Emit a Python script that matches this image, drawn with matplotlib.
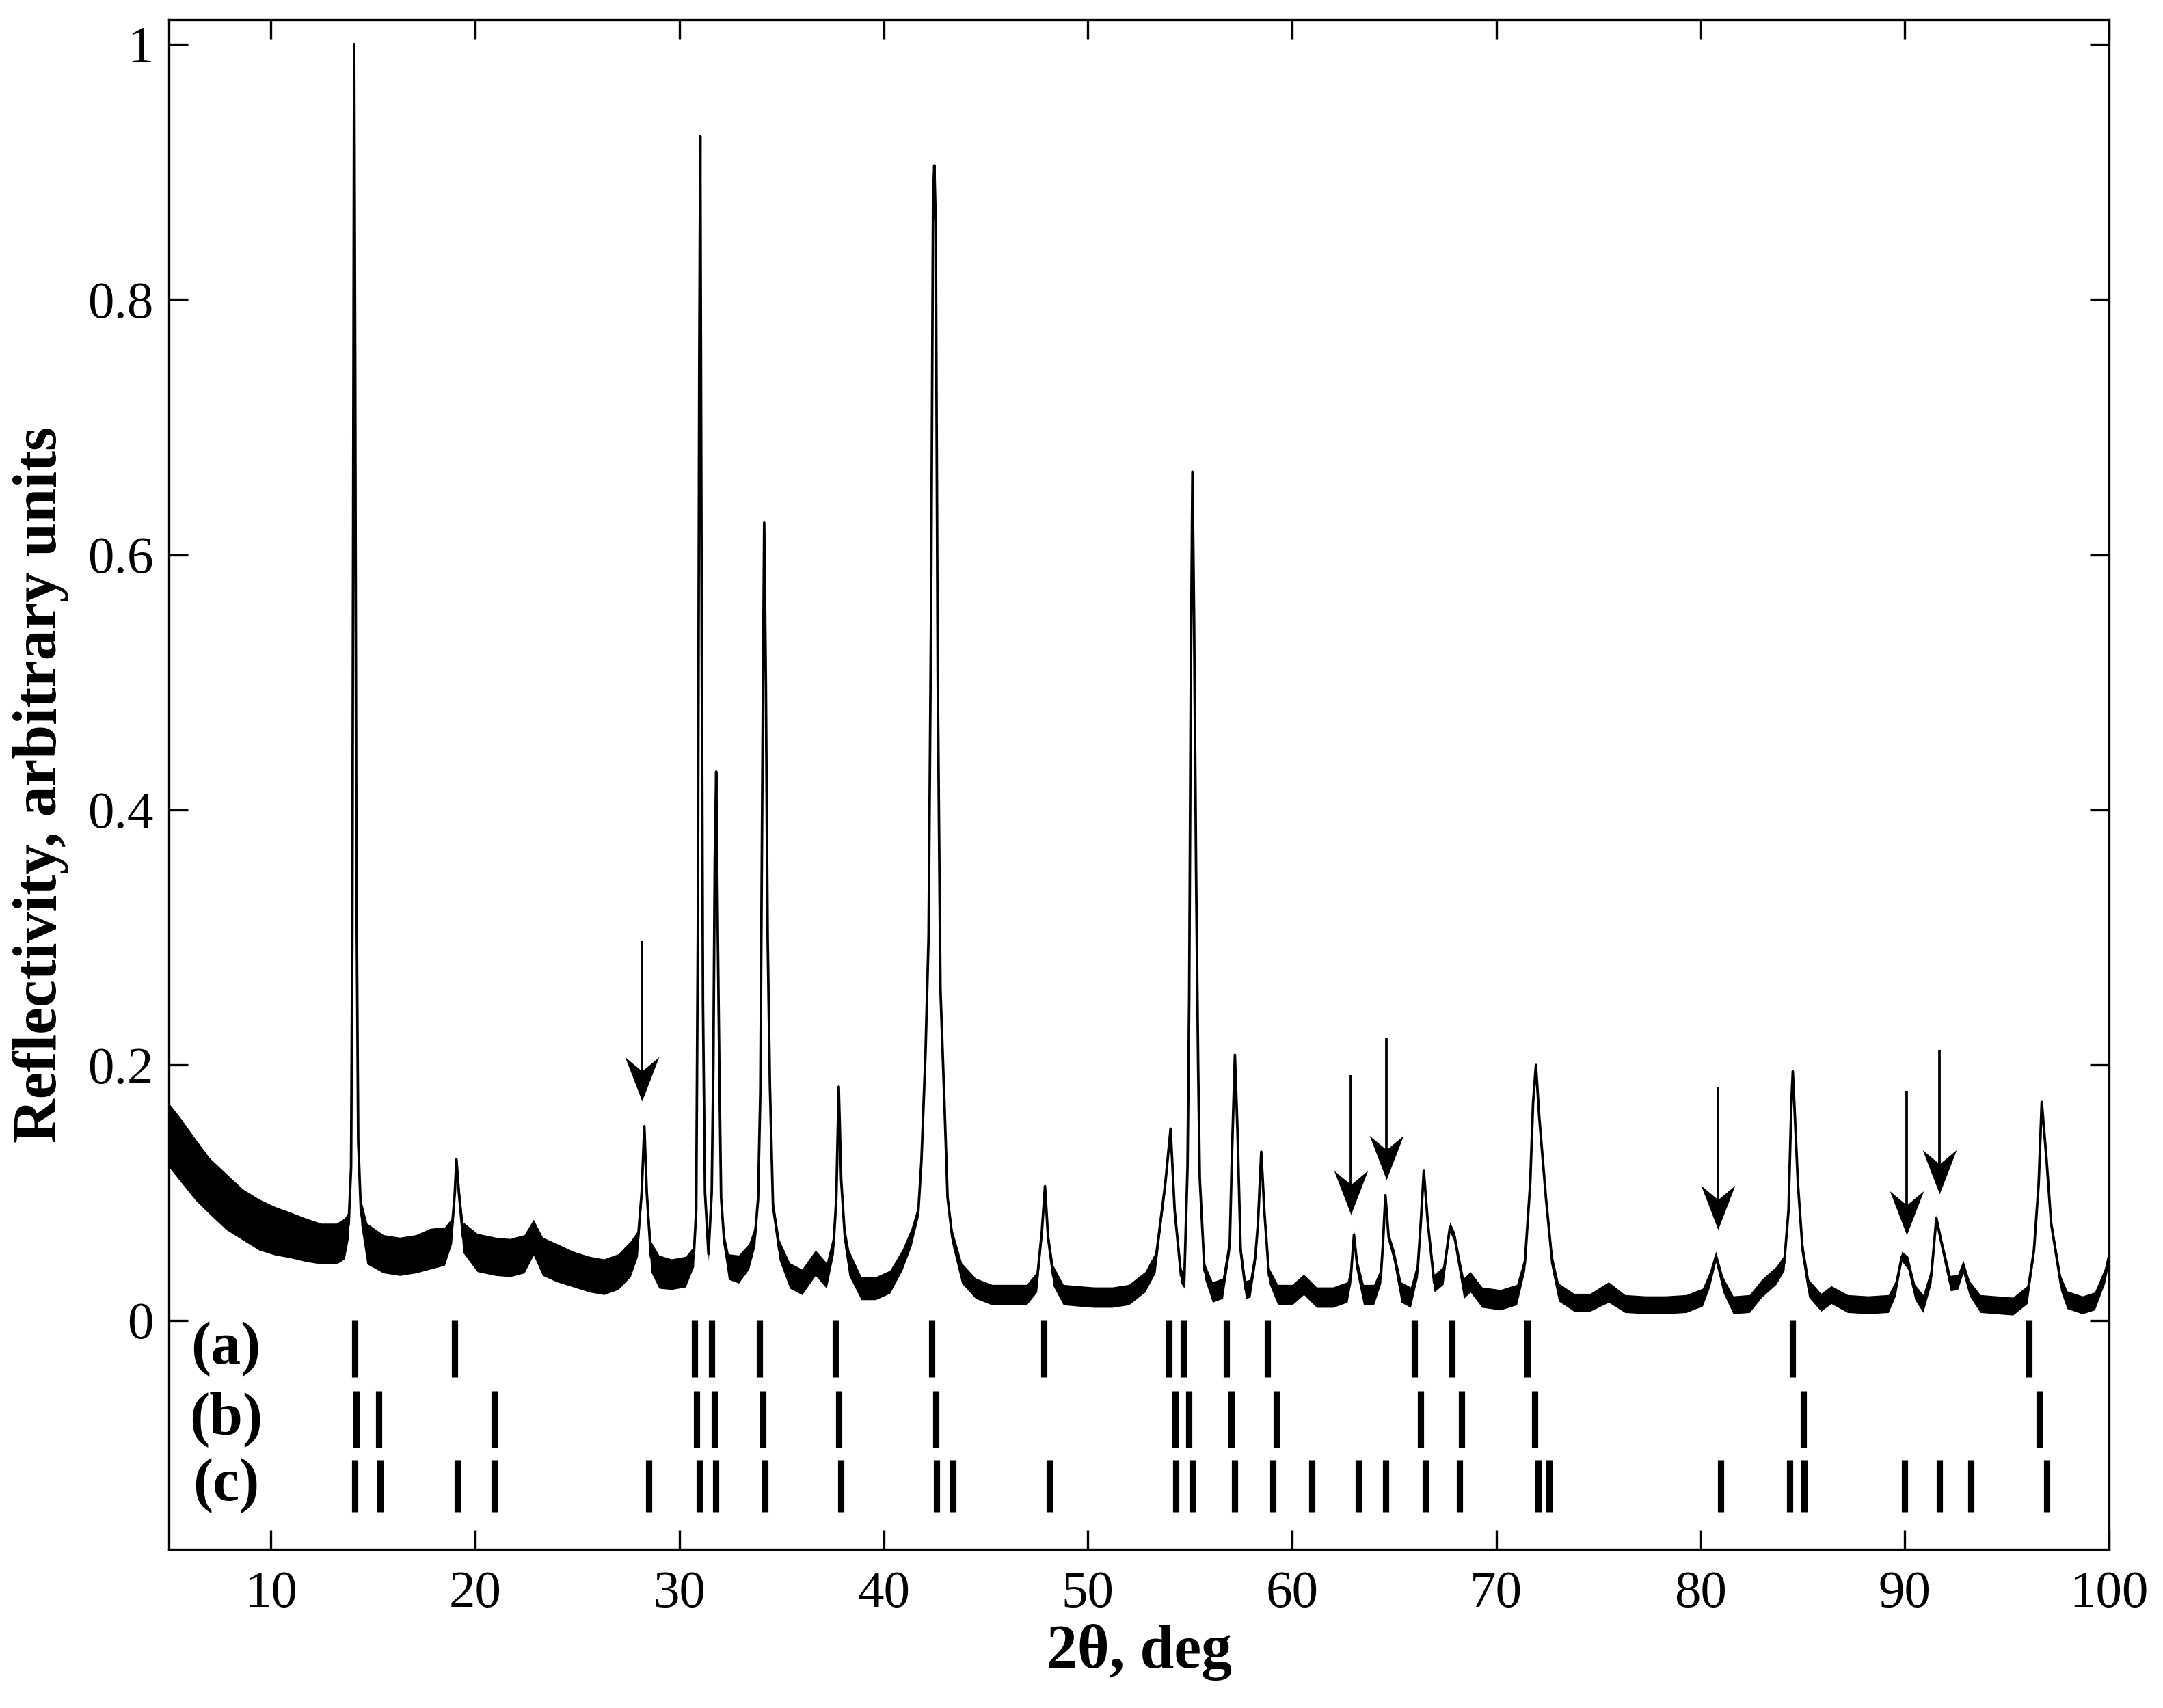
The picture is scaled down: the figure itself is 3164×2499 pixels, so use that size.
# XRD pattern with reference phase stick patterns (a), (b), (c)
# and arrows marking the extra reflections.

import numpy as np
import matplotlib.pyplot as plt
from matplotlib.path import Path

plt.rcParams['font.family'] = ['Liberation Serif', 'DejaVu Serif']
plt.rcParams['mathtext.fontset'] = 'stix'

# --- measured pattern, traced from the figure ---------------------------
# 2theta (deg), normalised intensity, half-width of the noise band
two_theta = [
    5.0, 5.5, 6.3, 7.0, 7.8, 8.6, 9.4, 10.2, 10.9, 11.7, 12.45, 13.2, 13.6,
    13.8, 13.92, 13.98, 14.03, 14.07, 14.12, 14.18, 14.27, 14.4, 14.7,
    15.5, 16.3, 17.1, 17.8, 18.5,
    18.85, 19.0, 19.08, 19.2, 19.4, 20.1, 21.0, 21.7, 22.4, 22.85, 23.3,
    24.0, 24.8, 25.6, 26.3, 27.0, 27.6,
    27.95, 28.15, 28.28, 28.4, 28.6, 29.0, 29.6, 30.3,
    30.7, 30.82, 30.9, 30.97, 31.02, 31.08, 31.15, 31.25, 31.42, 31.58,
    31.66, 31.73, 31.8, 31.88, 31.96, 32.04, 32.19, 32.4, 32.9, 33.4,
    33.7, 33.85, 33.96, 34.07, 34.15, 34.23, 34.32, 34.43, 34.58, 34.89,
    35.4, 36.0, 36.66, 37.2, 37.55,
    37.68, 37.8, 37.92, 38.1, 38.3, 38.9, 39.6, 40.3, 40.9, 41.35, 41.7,
    41.85, 42.05, 42.2, 42.32, 42.42, 42.48, 42.55, 42.65, 42.78, 42.98,
    43.13, 43.36, 43.82, 44.5, 45.3, 46.2, 47.0, 47.5,
    47.75, 47.9, 48.05, 48.3, 48.8, 49.5, 50.3, 51.2, 52.0, 52.8, 53.3,
    53.79, 54.05, 54.25, 54.56, 54.72,
    54.88, 54.96, 55.04, 55.12, 55.2, 55.3, 55.4, 55.48, 55.71, 56.1, 56.6,
    56.95, 57.05, 57.2, 57.33, 57.48, 57.72, 57.95, 58.2,
    58.33, 58.49, 58.64, 58.87, 59.3, 60.0, 60.57, 61.2, 62.0, 62.7,
    62.88, 63.03, 63.2, 63.5, 64.0, 64.35,
    64.45, 64.57, 64.73, 65.0, 65.34, 65.8, 66.15,
    66.3, 66.45, 66.65, 66.96, 67.4, 67.73, 67.96, 68.4, 68.73, 69.3,
    70.2, 71.0, 71.4,
    71.66, 71.8, 71.94, 72.1, 72.43, 72.74, 73.05, 73.8, 74.6, 75.5, 76.3,
    77.3, 78.3, 79.3, 80.1,
    80.45, 80.75, 81.1, 81.6, 82.4, 83.0, 83.7, 84.1,
    84.31, 84.45, 84.52, 84.65, 84.77, 85.0, 85.3, 85.9, 86.4, 87.2, 88.2,
    89.2, 89.55,
    89.86, 90.16, 90.5, 90.9, 91.3,
    91.55, 91.78, 92.24, 92.6, 92.86, 93.17, 93.7, 94.5, 95.3, 96.0,
    96.33, 96.56, 96.71, 96.94, 97.17, 97.64, 97.95, 98.7, 99.3, 99.8, 100.0,
]
intensity = [
    0.145, 0.135, 0.118, 0.105, 0.093, 0.083, 0.075, 0.070, 0.067, 0.063, 0.060, 0.060, 0.064,
    0.075, 0.120, 0.300, 0.700, 1.000, 0.750, 0.350, 0.140, 0.085, 0.060,
    0.052, 0.050, 0.052, 0.056, 0.058,
    0.070, 0.100, 0.126, 0.100, 0.065, 0.053, 0.050, 0.049, 0.052, 0.065, 0.050,
    0.045, 0.040, 0.036, 0.034, 0.038, 0.048,
    0.060, 0.100, 0.152, 0.100, 0.050, 0.038, 0.036, 0.038,
    0.050, 0.086, 0.300, 0.750, 0.928, 0.600, 0.250, 0.100, 0.052, 0.100,
    0.200, 0.360, 0.430, 0.300, 0.188, 0.096, 0.062, 0.042, 0.040, 0.050,
    0.066, 0.095, 0.178, 0.450, 0.625, 0.500, 0.300, 0.184, 0.090, 0.055,
    0.035, 0.030, 0.045, 0.035, 0.060,
    0.095, 0.183, 0.110, 0.065, 0.045, 0.025, 0.025, 0.030, 0.047, 0.065, 0.086,
    0.125, 0.210, 0.300, 0.550, 0.880, 0.905, 0.860, 0.500, 0.260, 0.168,
    0.096, 0.065, 0.037, 0.025, 0.020, 0.020, 0.020, 0.030,
    0.070, 0.105, 0.065, 0.035, 0.020, 0.019, 0.018, 0.018, 0.020, 0.030, 0.045,
    0.107, 0.150, 0.086, 0.035, 0.030,
    0.120, 0.250, 0.500, 0.665, 0.550, 0.350, 0.200, 0.111, 0.039, 0.022, 0.025,
    0.060, 0.127, 0.208, 0.147, 0.055, 0.024, 0.025, 0.050,
    0.076, 0.132, 0.086, 0.035, 0.020, 0.020, 0.028, 0.018, 0.018, 0.022,
    0.035, 0.067, 0.041, 0.020, 0.020, 0.035,
    0.060, 0.098, 0.065, 0.050, 0.022, 0.018, 0.040,
    0.076, 0.117, 0.076, 0.029, 0.035, 0.073, 0.065, 0.025, 0.030, 0.018,
    0.016, 0.020, 0.045,
    0.107, 0.170, 0.200, 0.160, 0.096, 0.045, 0.022, 0.014, 0.014, 0.022, 0.013,
    0.012, 0.012, 0.013, 0.018,
    0.032, 0.050, 0.028, 0.012, 0.013, 0.025, 0.035, 0.045,
    0.086, 0.170, 0.195, 0.150, 0.107, 0.055, 0.025, 0.014, 0.020, 0.013, 0.012,
    0.013, 0.025,
    0.050, 0.045, 0.022, 0.013, 0.035,
    0.080, 0.062, 0.029, 0.030, 0.042, 0.025, 0.013, 0.012, 0.011, 0.020,
    0.055, 0.107, 0.171, 0.127, 0.076, 0.029, 0.016, 0.012, 0.015, 0.035, 0.050,
]
noise = [
    0.025, 0.025, 0.024, 0.022, 0.022, 0.020, 0.020, 0.019, 0.018, 0.017, 0.016, 0.016, 0.016,
    0.010, 0.004, 0.002, 0.002, 0.000, 0.002, 0.002, 0.004, 0.010, 0.016,
    0.015, 0.015, 0.015, 0.016, 0.015,
    0.010, 0.006, 0.004, 0.006, 0.012, 0.015, 0.015, 0.015, 0.015, 0.014, 0.015,
    0.015, 0.014, 0.014, 0.014, 0.014, 0.014,
    0.010, 0.006, 0.003, 0.006, 0.012, 0.013, 0.012, 0.012,
    0.008, 0.004, 0.002, 0.002, 0.000, 0.002, 0.002, 0.004, 0.006, 0.004,
    0.002, 0.002, 0.000, 0.002, 0.002, 0.004, 0.006, 0.010, 0.011, 0.010,
    0.008, 0.005, 0.003, 0.002, 0.000, 0.002, 0.002, 0.003, 0.005, 0.008,
    0.010, 0.010, 0.010, 0.010, 0.008,
    0.005, 0.002, 0.004, 0.008, 0.010, 0.009, 0.009, 0.009, 0.008, 0.007, 0.005,
    0.004, 0.003, 0.002, 0.002, 0.002, 0.000, 0.002, 0.002, 0.002, 0.003,
    0.004, 0.006, 0.008, 0.008, 0.008, 0.008, 0.008, 0.008,
    0.005, 0.002, 0.005, 0.008, 0.008, 0.008, 0.008, 0.008, 0.008, 0.008, 0.008,
    0.005, 0.002, 0.005, 0.006, 0.005,
    0.003, 0.002, 0.002, 0.000, 0.002, 0.002, 0.003, 0.004, 0.006, 0.008, 0.008,
    0.006, 0.003, 0.002, 0.003, 0.005, 0.007, 0.007, 0.006,
    0.004, 0.002, 0.004, 0.006, 0.008, 0.008, 0.008, 0.008, 0.008, 0.008,
    0.006, 0.003, 0.006, 0.008, 0.008, 0.006,
    0.004, 0.002, 0.004, 0.005, 0.008, 0.008, 0.006,
    0.004, 0.002, 0.004, 0.007, 0.007, 0.004, 0.004, 0.008, 0.008, 0.008,
    0.008, 0.008, 0.006,
    0.004, 0.002, 0.002, 0.003, 0.004, 0.006, 0.007, 0.007, 0.007, 0.008, 0.007,
    0.007, 0.007, 0.007, 0.007,
    0.006, 0.004, 0.006, 0.007, 0.007, 0.007, 0.007, 0.006,
    0.004, 0.003, 0.002, 0.003, 0.004, 0.006, 0.007, 0.007, 0.007, 0.007, 0.007,
    0.007, 0.006,
    0.004, 0.005, 0.006, 0.007, 0.006,
    0.003, 0.004, 0.006, 0.006, 0.005, 0.006, 0.007, 0.007, 0.007, 0.007,
    0.005, 0.004, 0.002, 0.003, 0.004, 0.006, 0.007, 0.007, 0.007, 0.006, 0.005,
]

# --- reference stick patterns (peak positions, deg) ---------------------
sticks_a = [14.09, 19.0, 30.75, 31.58, 33.92, 37.65, 42.35, 47.84, 53.97,
            54.68, 56.8, 58.8, 65.98, 67.84, 71.52, 84.49, 96.07]
sticks_b = [14.16, 15.29, 20.92, 30.85, 31.7, 34.09, 37.82, 42.56, 54.29,
            54.94, 57.03, 59.23, 66.3, 68.29, 71.88, 85.04, 96.6]
sticks_c = [14.1, 15.35, 19.13, 20.94, 28.5, 30.96, 31.79, 34.2, 37.9, 42.6,
            43.38, 48.1, 54.3, 55.1, 57.2, 59.06, 60.98, 63.23, 64.6, 66.52,
            68.2, 72.05, 72.6, 81.0, 84.38, 85.07, 89.98, 91.71, 93.25, 96.95]
stick_labels = ['(a)', '(b)', '(c)']

# arrows marking extra reflections: x, tip height, tail height
arrow_x = [28.17, 62.88, 64.62, 80.84, 90.09, 91.7]
arrow_tip = [0.172, 0.083, 0.110, 0.071, 0.067, 0.099]
arrow_top = [0.297, 0.192, 0.221, 0.183, 0.180, 0.212]

x_ticks = [10, 20, 30, 40, 50, 60, 70, 80, 90, 100]
y_ticks = [0, 0.2, 0.4, 0.6, 0.8, 1]
y_tick_labels = ['0', '0.2', '0.4', '0.6', '0.8', '1']


def arrow_head_marker():
    """Barbed arrow head, tip at the origin, pointing down."""
    verts = [(0, 0), (-0.385, 1.0), (0, 0.68), (0.385, 1.0), (0, 0)]
    codes = [Path.MOVETO, Path.LINETO, Path.LINETO, Path.LINETO, Path.CLOSEPOLY]
    return Path(verts, codes)


def main():
    fig = plt.figure(figsize=(3164 / 300, 2499 / 300), dpi=300)
    ax = fig.add_axes([0.0781, 0.0928, 0.8969, 0.8956])

    x = np.array(two_theta)
    y = np.array(intensity)
    n = np.array(noise)

    # noise band + trace
    ax.fill_between(x, y - n, y + n, color='black', lw=0)
    ax.plot(x, y, color='black', lw=0.9)

    # stick patterns
    rows = [(sticks_a, 0.0, -0.0447), (sticks_b, -0.0554, -0.0999),
            (sticks_c, -0.1094, -0.150)]
    for (pos, top, bot), lab in zip(rows, stick_labels):
        ax.vlines(pos, bot, top, color='black', lw=2.2)
        ax.text(7.79, (top + bot) / 2, lab, ha='center', va='center',
                fontsize=21, fontweight='bold')

    # arrows
    head = arrow_head_marker()
    for ax_x, tip, tail in zip(arrow_x, arrow_tip, arrow_top):
        ax.vlines(ax_x, tip + 0.02, tail, color='black', lw=0.9)
        ax.plot([ax_x], [tip], marker=head, markersize=31, color='black',
                markeredgewidth=0, linestyle='none')

    ax.set_xlim(5, 100)
    ax.set_ylim(-0.1797, 1.0192)
    ax.set_xticks(x_ticks)
    ax.set_yticks(y_ticks)
    ax.set_yticklabels(y_tick_labels)
    ax.tick_params(direction='in', top=True, right=True, length=6.7,
                   width=0.8, labelsize=18.5)
    ax.tick_params(axis='x', pad=7.5)
    ax.tick_params(axis='y', pad=5.4)
    for sp in ax.spines.values():
        sp.set_linewidth(0.8)

    ax.set_xlabel('2θ, deg', fontsize=21.5, fontweight='bold')
    ax.set_ylabel('Reflectivity, arbitrary units', fontsize=21.5,
                  fontweight='bold')
    ax.xaxis.set_label_coords(0.5, -0.0487)
    ax.yaxis.set_label_coords(-0.0514, 0.5)

    fig.savefig('out.png', dpi=300)


if __name__ == '__main__':
    main()
